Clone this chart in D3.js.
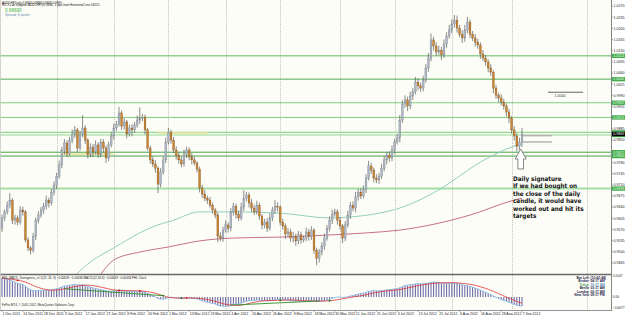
<!DOCTYPE html>
<html>
<head>
<meta charset="utf-8">
<script src="https://cdn.jsdelivr.net/npm/d3@7"></script>
<style>
  html, body { margin: 0; padding: 0; background: #fff; }
  svg { display: block; font-family: "Liberation Sans", Arial, sans-serif; }
</style>
</head>
<body>
<svg id="chart" width="625" height="315"></svg>
<script>
// ---- data ----
const symbol = "AUDCHF,Daily";

// daily closes x 10000, first value is the close of the bar before 1 Dec 2011
const closesX1e4 = [9574,
  9606, 9625, 9646, 9662, 9599, 9606, 9593, 9631, 9625, 9537,
  9512, 9505, 9549, 9599, 9615, 9631, 9643, 9662, 9653, 9687,
  9709, 9737, 9772, 9819, 9841, 9809, 9850, 9869, 9882, 9825,
  9869, 9888, 9850, 9806, 9828, 9813, 9835, 9806, 9844, 9825,
  9794, 9835, 9863, 9888, 9900, 9935, 9894, 9907, 9869, 9888,
  9882, 9897, 9913, 9919, 9922, 9882, 9825, 9788, 9775, 9762,
  9712, 9750, 9788, 9844, 9875, 9850, 9819, 9803, 9788, 9775,
  9806, 9819, 9797, 9788, 9778, 9759, 9700, 9681, 9668, 9662,
  9646, 9631, 9615, 9549, 9543, 9568, 9584, 9574, 9625, 9643,
  9618, 9606, 9640, 9668, 9678, 9653, 9637, 9625, 9646, 9612,
  9584, 9593, 9574, 9606, 9631, 9643, 9640, 9593, 9581, 9556,
  9562, 9543, 9549, 9534, 9553, 9537, 9543, 9562, 9549, 9568,
  9505, 9480, 9499, 9518, 9543, 9574, 9599, 9618, 9625, 9599,
  9581, 9543, 9584, 9615, 9646, 9637, 9672, 9687, 9675, 9694,
  9731, 9769, 9756, 9731, 9725, 9737, 9762, 9788, 9803, 9794,
  9819, 9844, 9857, 9913, 9963, 9976, 9957, 9988, 10001, 10032,
  10020, 10013, 10038, 10076, 10107, 10164, 10145, 10126, 10132, 10117,
  10151, 10176, 10195, 10214, 10226, 10201, 10182, 10170, 10195, 10220,
  10182, 10170, 10157, 10148, 10120, 10107, 10095, 10076, 10063, 10013,
  9991, 9982, 9969, 9957, 9938, 9919, 9882, 9863, 9831, 9844,
  9869];

// wick lengths in pips above the body top / below the body bottom
const upperWick = [
  10, 8, 12, 22, 6, 10, 8, 12, 10, 6,
  8, 6, 10, 8, 12, 9, 10, 14, 8, 10,
  12, 10, 14, 10, 12, 8, 10, 14, 12, 6,
  10, 40, 8, 6, 12, 10, 14, 8, 10, 9,
  8, 10, 12, 14, 10, 19, 8, 12, 6, 10,
  12, 10, 14, 34, 10, 8, 6, 8, 10, 12,
  6, 12, 10, 14, 13, 8, 10, 12, 8, 10,
  14, 10, 8, 12, 10, 6, 8, 10, 12, 8,
  10, 8, 6, 8, 12, 10, 14, 8, 12, 10,
  8, 12, 14, 25, 10, 8, 12, 10, 14, 8,
  6, 10, 12, 14, 10, 19, 12, 6, 10, 8,
  12, 10, 14, 8, 12, 10, 8, 14, 10, 12,
  6, 8, 10, 12, 14, 10, 12, 14, 10, 8,
  10, 6, 12, 14, 10, 12, 16, 10, 12, 14,
  12, 16, 10, 8, 12, 10, 14, 12, 10, 12,
  14, 10, 12, 16, 12, 14, 10, 14, 12, 16,
  12, 10, 14, 12, 16, 20, 10, 12, 14, 10,
  14, 12, 16, 14, 16, 14, 10, 12, 16, 16,
  8, 10, 12, 10, 8, 12, 10, 8, 12, 6,
  10, 8, 12, 10, 8, 10, 6, 12, 8, 14,
  19];
const lowerWick = [
  12, 10, 8, 10, 12, 14, 10, 8, 12, 8,
  10, 13, 8, 12, 10, 8, 12, 10, 14, 8,
  10, 12, 8, 10, 14, 12, 8, 10, 12, 14,
  8, 10, 12, 14, 10, 16, 8, 12, 10, 14,
  16, 10, 8, 12, 10, 8, 12, 10, 14, 8,
  20, 10, 8, 12, 10, 14, 8, 12, 10, 14,
  28, 10, 8, 10, 8, 12, 10, 14, 12, 10,
  8, 12, 10, 14, 8, 10, 14, 12, 10, 12,
  8, 12, 10, 19, 10, 12, 8, 14, 10, 12,
  14, 10, 8, 12, 10, 14, 12, 10, 8, 12,
  14, 10, 12, 8, 10, 12, 14, 10, 12, 16,
  10, 12, 14, 16, 10, 12, 8, 10, 14, 12,
  12, 22, 14, 10, 12, 8, 10, 12, 8, 14,
  12, 16, 10, 8, 12, 10, 14, 12, 10, 8,
  10, 8, 12, 14, 10, 12, 8, 10, 14, 12,
  10, 12, 8, 14, 10, 12, 16, 10, 12, 8,
  14, 12, 10, 8, 12, 10, 14, 12, 10, 16,
  10, 12, 8, 10, 12, 14, 10, 16, 12, 10,
  12, 10, 14, 12, 16, 10, 12, 14, 12, 16,
  12, 14, 10, 12, 14, 16, 12, 14, 16, 12,
  16];

// two moving averages, read at a few bars [bar, price]
const maFast = [[28, 0.9425], [34, 0.9468], [43, 0.9512], [53, 0.9559], [58, 0.9578], [66, 0.9599],
  [76, 0.9625], [89, 0.9625], [107, 0.9621], [126, 0.9606], [134, 0.9609], [145, 0.9621],
  [153, 0.9637], [168, 0.9694], [184, 0.9781], [197, 0.9831], [200, 0.9838]];
const maSlow = [[38, 0.9430], [43, 0.9474], [53, 0.9499], [64, 0.9515], [76, 0.9534], [89, 0.9543],
  [107, 0.9546], [127, 0.9553], [140, 0.9559], [153, 0.9568], [180, 0.9615], [197, 0.9662], [200, 0.9668]];

// horizontal lines drawn on the chart
const levels = [1.0114, 1.0041, 0.9967, 0.9921, 0.9874, 0.9866, 0.9812, 0.9800, 0.9698];
const tradeLevels = [0.9864, 0.9844];
const roundLevel = 1.0000;

// MACD(12,26,9) start values carried over from the bars before the window
const ema12Seed = 0.9560;
const ema26Seed = 0.9420;

const priceTicks = ["1.0270", "1.0235", "1.0200", "1.0165", "1.0130", "1.0095", "1.0060", "1.0025",
  "0.9990", "0.9955", "0.9920", "0.9885", "0.9850", "0.9815", "0.9780", "0.9745", "0.9710",
  "0.9675", "0.9640", "0.9605", "0.9570", "0.9535", "0.9500", "0.9465"];
const dateLabels = ["1 Dec 2011", "14 Dec 2011", "28 Dec 2011", "9 Jan 2012", "17 Jan 2012", "27 Jan 2012",
  "8 Feb 2012", "20 Feb 2012", "1 Mar 2012", "13 Mar 2012", "23 Mar 2012", "4 Apr 2012", "16 Apr 2012",
  "26 Apr 2012", "8 May 2012", "18 May 2012", "30 May 2012", "11 Jun 2012", "21 Jun 2012", "3 Jul 2012",
  "13 Jul 2012", "25 Jul 2012", "6 Aug 2012", "16 Aug 2012", "28 Aug 2012", "7 Sep 2012"];
const monthStartBars = [21, 43, 64, 86, 107, 130, 151, 173, 196, 225];

const noteLines = ["Daily signature", "If we had bought on", "the close of the daily",
  "candle, it would have", "worked out and hit its", "targets"];
const clockRows = [["Bar Left", "[10:42:44]"], ["Broker", "04:17 AM"], ["Tokyo", "10:17 AM"],
  ["Berlin", "03:17 AM"], ["London", "02:17 AM"], ["New York", "09:17 PM"]];

// ---- build ----
const bars = closesX1e4.slice(1).map((c, i) => {
  const open = closesX1e4[i] / 1e4, close = c / 1e4;
  return { i, open, close,
    high: Math.max(open, close) + upperWick[i] / 1e4,
    low: Math.min(open, close) - lowerWick[i] / 1e4 };
});
const last = bars[bars.length - 1];

let e12 = ema12Seed, e26 = ema26Seed;
const macd = bars.map(b => {
  e12 += (b.close - e12) * 2 / 13;
  e26 += (b.close - e26) * 2 / 27;
  return e12 - e26;
});
const signal = macd.map((v, i) => d3.mean(macd.slice(Math.max(0, i - 8), i + 1)));

const axisX = 611, mainBottom = 274, macdBottom = 310;

const svg = d3.select("#chart");
const x = d3.scaleLinear().domain([0, 200]).range([2, 522]);
const y = d3.scaleLinear().domain([0.94303, 1.02859]).range([mainBottom, 1]);
// zero line sits at y=297, the highest histogram bar reaches y=278
const ym = d3.scaleLinear().domain([0, d3.max(macd)]).range([297, 278]);

svg.append("rect").attr("width", 625).attr("height", 315).attr("fill", "#fff");
svg.append("rect").attr("x", 0).attr("y", 0).attr("width", axisX).attr("height", macdBottom).attr("fill", "#fdfdf7");

const defs = svg.append("defs");
defs.append("clipPath").attr("id", "main").append("rect")
  .attr("x", 0).attr("y", 0).attr("width", axisX).attr("height", mainBottom);
defs.append("clipPath").attr("id", "sub").append("rect")
  .attr("x", 0).attr("y", mainBottom + 1).attr("width", axisX).attr("height", macdBottom - mainBottom - 1);

// vertical dotted grid
svg.append("g").selectAll("line").data(monthStartBars).join("line")
  .attr("x1", d => Math.round(x(d)) + 0.5).attr("x2", d => Math.round(x(d)) + 0.5)
  .attr("y1", 0).attr("y2", macdBottom)
  .attr("stroke", "#a8a8a8").attr("stroke-width", 0.8).attr("stroke-dasharray", "1,1.2");

const main = svg.append("g").attr("clip-path", "url(#main)");

// horizontal levels
const levelColor = ["#62b862", "#55ad55", "#80cc80", "#80cc80", "#94d894", "#94d894", "#4aa24a", "#4aa24a", "#a4dea4"];
const levelWidth = [1, 1, 1, 1, 1.2, 1.2, 1, 1, 2];
main.append("g").selectAll("line").data(levels).join("line")
  .attr("x1", 0).attr("x2", axisX)
  .attr("y1", d => y(d)).attr("y2", d => y(d))
  .attr("stroke", (d, i) => levelColor[i]).attr("stroke-width", (d, i) => levelWidth[i]);

// pale yellow marks on the old range
const marks = [[23.5, 42.7, 0.9806], [60, 79, 0.9872]];
main.append("g").selectAll("line").data(marks).join("line")
  .attr("x1", d => x(d[0])).attr("x2", d => x(d[1]))
  .attr("y1", d => y(d[2])).attr("y2", d => y(d[2]))
  .attr("stroke", "#ece29a").attr("stroke-width", 2).attr("opacity", 0.8);

// moving averages
const maLine = d3.line().x(d => x(d[0])).y(d => y(d[1])).curve(d3.curveMonotoneX);
main.append("path").attr("d", maLine(maFast)).attr("fill", "none").attr("stroke", "#86cbb4").attr("stroke-width", 0.9);
main.append("path").attr("d", maLine(maSlow)).attr("fill", "none").attr("stroke", "#c0607a").attr("stroke-width", 0.9);

// candles
const cg = main.append("g");
cg.selectAll("line").data(bars).join("line")
  .attr("x1", d => x(d.i)).attr("x2", d => x(d.i))
  .attr("y1", d => y(d.high)).attr("y2", d => y(d.low))
  .attr("stroke", "#5a5a5a").attr("stroke-width", 0.7);
cg.selectAll("rect").data(bars).join("rect")
  .attr("x", d => x(d.i) - 0.9).attr("width", 1.8)
  .attr("y", d => y(Math.max(d.open, d.close)))
  .attr("height", d => Math.max(0.6, Math.abs(y(d.open) - y(d.close))))
  .attr("fill", d => d.close >= d.open ? "#aeb7c4" : "#c98532")
  .attr("stroke", d => d.close >= d.open ? "#7c8594" : "#875420").attr("stroke-width", 0.35);

// trade lines right of the last bar
main.append("g").selectAll("line").data(tradeLevels).join("line")
  .attr("x1", x(200) + 1).attr("x2", x(211.5))
  .attr("y1", d => y(d)).attr("y2", d => y(d))
  .attr("stroke", (d, i) => i ? "#808080" : "#b4b4b4").attr("stroke-width", (d, i) => i ? 0.9 : 1.6);
main.append("line").attr("x1", x(210)).attr("x2", x(223.5))
  .attr("y1", y(roundLevel)).attr("y2", y(roundLevel)).attr("stroke", "#555").attr("stroke-width", 0.9);
main.append("text").attr("x", x(212.5)).attr("y", y(roundLevel) + 4.5)
  .attr("font-size", 3.6).attr("fill", "#333").text(d3.format(".4f")(roundLevel));

// hollow arrow under the last candle
const ax = x(199.5);
main.append("path")
  .attr("d", `M${ax},149 L${ax + 5.5},159 L${ax + 2.8},159 L${ax + 2.8},169 L${ax - 2.8},169 L${ax - 2.8},159 L${ax - 5.5},159 Z`)
  .attr("fill", "#fff").attr("stroke", "#555").attr("stroke-width", 0.7);

// note
main.append("g").selectAll("text").data(noteLines).join("text")
  .attr("x", 513).attr("y", (d, i) => 181 + i * 7.4)
  .attr("font-family", "'Liberation Sans Narrow', 'DejaVu Sans Condensed', 'Liberation Sans', sans-serif")
  .attr("font-weight", "bold").attr("font-size", 6.3).attr("fill", "#111").text(d => d);

// header texts
const f4 = d3.format(".4f");
svg.append("text").attr("x", 2).attr("y", 3.6).attr("font-size", 3).attr("fill", "#111")
  .text(`${symbol}  ${f4(last.open)} ${f4(last.high)} ${f4(last.low)} ${f4(last.close)}`);
svg.append("text").attr("x", 2).attr("y", 6.4).attr("font-size", 3).attr("fill", "#111")
  .text(`RD X Lab stopped: AUDCHF@${f4(levels[5])}, 1 pips from Horizontal Line LE221.`);
svg.append("text").attr("x", 5).attr("y", 11.5).attr("font-size", 4.6).attr("fill", "#3cb43c")
  .text(d3.format(".5f")(last.close));
svg.append("text").attr("x", 5).attr("y", 16.2).attr("font-size", 3.4).attr("fill", "#5f86ad")
  .text("Spread: 6 points");

// separators and borders
svg.append("line").attr("x1", 0).attr("x2", axisX).attr("y1", mainBottom + 0.5).attr("y2", mainBottom + 0.5)
  .attr("stroke", "#6a6a6a").attr("stroke-width", 1.4);
svg.append("line").attr("x1", 0).attr("x2", axisX).attr("y1", macdBottom + 0.5).attr("y2", macdBottom + 0.5)
  .attr("stroke", "#777").attr("stroke-width", 0.8);
svg.append("line").attr("x1", axisX + 0.5).attr("x2", axisX + 0.5).attr("y1", 0).attr("y2", macdBottom + 1)
  .attr("stroke", "#777").attr("stroke-width", 0.9);
svg.append("line").attr("x1", 0.5).attr("x2", 0.5).attr("y1", 0).attr("y2", macdBottom)
  .attr("stroke", "#c8c8c8").attr("stroke-width", 0.8);

// price axis
const pa = svg.append("g");
pa.selectAll("line").data(priceTicks).join("line")
  .attr("x1", axisX).attr("x2", axisX + 2).attr("y1", d => y(+d)).attr("y2", d => y(+d))
  .attr("stroke", "#777").attr("stroke-width", 0.6);
pa.selectAll("text").data(priceTicks).join("text")
  .attr("x", axisX + 2.4).attr("y", d => y(+d) + 1.3)
  .attr("font-size", 3.6).attr("fill", "#222").text(d => d);
// green level tags, the ones hidden behind the current price tag are left out of the text layer
const lv = svg.append("g").selectAll("g").data(levels).join("g");
lv.append("rect").attr("x", axisX + 1).attr("y", d => y(d) - 2.2).attr("width", 13).attr("height", 4.4).attr("fill", "#43ad4b");
lv.filter(d => Math.abs(y(d) - y(last.close)) > 4.4)
  .append("text").attr("x", axisX + 2.2).attr("y", d => y(d) + 1.3).attr("font-size", 3.6).attr("fill", "#eaffea").text(d => f4(d));
svg.append("rect").attr("x", axisX + 1).attr("y", y(last.close) - 2.2).attr("width", 13).attr("height", 4.4).attr("fill", "#000");
svg.append("text").attr("x", axisX + 2.2).attr("y", y(last.close) + 1.3).attr("font-size", 3.6).attr("fill", "#fff").text(f4(last.close));

// MACD window
const sub = svg.append("g").attr("clip-path", "url(#sub)");
sub.append("g").selectAll("line").data(macd).join("line")
  .attr("x1", (d, i) => x(i)).attr("x2", (d, i) => x(i))
  .attr("y1", ym(0)).attr("y2", d => ym(d))
  .attr("stroke", "#3b3b8c").attr("stroke-width", 0.8);
const mline = d3.line().x((d, i) => x(i)).y(d => ym(d));
sub.append("path").attr("d", mline(macd)).attr("fill", "none").attr("stroke", "#8dbbe8").attr("stroke-width", 0.9);
sub.append("path").attr("d", mline(signal)).attr("fill", "none").attr("stroke", "#dd3535").attr("stroke-width", 0.8);
const greenDiv = [[24, 62], [88, 122]];
sub.append("g").selectAll("line").data(greenDiv).join("line")
  .attr("x1", d => x(d[0])).attr("x2", d => x(d[1]))
  .attr("y1", d => ym(signal[d[0]])).attr("y2", d => ym(signal[d[1]]))
  .attr("stroke", "#2f8f2f").attr("stroke-width", 0.9);
const redDots = [6, 45, 53, 71], greenDots = [62, 69, 107, 126];
sub.append("g").selectAll("circle").data(redDots).join("circle")
  .attr("cx", d => x(d)).attr("cy", d => ym(signal[d])).attr("r", 0.9).attr("fill", "#d01010");
sub.append("g").selectAll("circle").data(greenDots).join("circle")
  .attr("cx", d => x(d)).attr("cy", d => ym(signal[d])).attr("r", 0.9).attr("fill", "#0a7a0a");

const f5 = d3.format(".5f");
svg.append("text").attr("x", 2).attr("y", 278.5).attr("font-size", 3).attr("fill", "#111")
  .text(`FX5_MACD_Divergence_v1.1(12, 26, 9) ${f5(macd[200])} ${f5(signal[200])}  MACD(12,26,9) ${f5(macd[200])} ${f5(signal[200])}  PHL Clock`);
svg.append("text").attr("x", 2).attr("y", 306).attr("font-size", 3).attr("fill", "#222")
  .text("FxPro MT4, © 2001-2012, MetaQuotes Software Corp.");

// MACD axis labels
const macdTicks = [[ym.invert(mainBottom + 2), mainBottom + 3.3], [0, ym(0) + 1.3], [ym.invert(macdBottom - 2), macdBottom - 1]];
svg.append("g").selectAll("text").data(macdTicks).join("text")
  .attr("x", axisX + 1.8).attr("y", d => d[1]).attr("font-size", 3.2).attr("fill", "#222")
  .text(d => d[0] === 0 ? "0.00" : d3.format(".4f")(d[0]));

// clock box
const ck = svg.append("g").selectAll("g").data(clockRows).join("g");
ck.append("text").attr("x", 589).attr("y", (d, i) => 279 + i * 3.4).attr("text-anchor", "end")
  .attr("font-size", 3.3).attr("font-weight", "bold")
  .attr("fill", (d, i) => i === 2 ? "#4aa860" : "#1d1d4d").text(d => d[0]);
ck.append("text").attr("x", 590.5).attr("y", (d, i) => 279 + i * 3.4)
  .attr("font-size", 3.3).attr("font-weight", "bold")
  .attr("fill", (d, i) => i === 2 ? "#5b8cc0" : "#1d1d4d").text(d => d[1]);

// date axis
const da = svg.append("g").selectAll("g").data(dateLabels).join("g");
da.append("line").attr("x1", (d, i) => x(i * 8)).attr("x2", (d, i) => x(i * 8))
  .attr("y1", macdBottom).attr("y2", macdBottom + 2).attr("stroke", "#777").attr("stroke-width", 0.5);
da.append("text").attr("x", (d, i) => x(i * 8) + 0.5).attr("y", 314.5)
  .attr("font-size", 3.5).attr("fill", "#222").text(d => d);
</script>
</body>
</html>
